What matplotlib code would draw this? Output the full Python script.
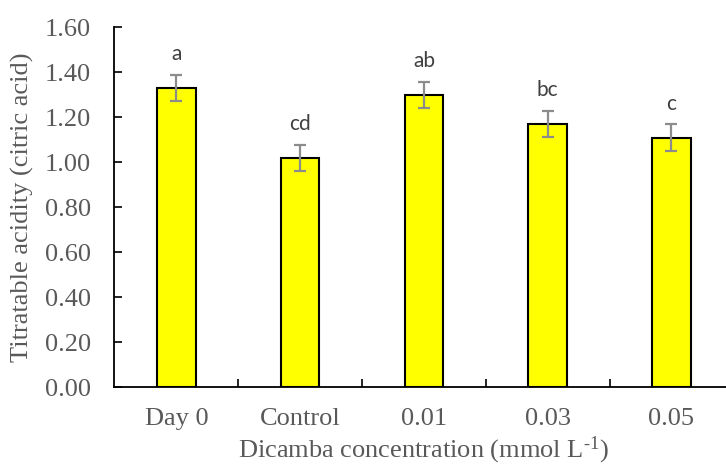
import numpy as np
import matplotlib
matplotlib.use("Agg")
import matplotlib.pyplot as plt

categories = ["Day 0", "Control", "0.01", "0.03", "0.05"]
acidity = [1.33, 1.02, 1.30, 1.17, 1.11]
sd = [0.058, 0.058, 0.058, 0.058, 0.058]
letters = ["a", "cd", "ab", "bc", "c"]
y_ticks = [0.0, 0.2, 0.4, 0.6, 0.8, 1.0, 1.2, 1.4, 1.6]

plt.rcParams["font.family"] = ["Liberation Serif", "DejaVu Serif"]
plt.rcParams["mathtext.fontset"] = "custom"
plt.rcParams["mathtext.rm"] = "Liberation Serif"
plt.rcParams["mathtext.it"] = "Liberation Serif:italic"

grey = "#595959"

fig = plt.figure(figsize=(7.26, 4.68), dpi=100)
ax = fig.add_axes([0.1577, 0.1724, 0.8523, 0.7693])

x = np.arange(len(categories))
ax.bar(x, acidity, width=0.31, color="#ffff00", edgecolor="black", linewidth=1.5, zorder=2)
ax.errorbar(x, acidity, yerr=sd, fmt="none", ecolor="#8c8c8c", elinewidth=1.6,
            capsize=4.2, capthick=1.6, zorder=3)

for xi, m, s, lab in zip(x, acidity, sd, letters):
    ax.text(xi, m + s + 0.066, lab, ha="center", va="baseline", fontsize=15,
            family=["Lato", "DejaVu Sans"], color="#404040")

ax.set_xlim(-0.5, 4.5)
ax.set_ylim(0, 1.6)
ax.set_yticks(y_ticks)
ax.set_yticklabels([f"{v:.2f}" for v in y_ticks])
ax.set_xticks(x)
ax.set_xticklabels(categories)
ax.set_xticks(x[:-1] + 0.5, minor=True)

ax.tick_params(axis="y", direction="in", length=5.5, width=1.2, pad=17,
               labelsize=19, labelcolor=grey)
ax.tick_params(axis="x", which="major", length=0, pad=15, labelsize=19, labelcolor=grey)
ax.tick_params(axis="x", which="minor", direction="in", length=5.5, width=1.2)

for side in ["top", "right"]:
    ax.spines[side].set_visible(False)
for side in ["left", "bottom"]:
    ax.spines[side].set_linewidth(1.3)

ax.set_ylabel("Titratable acidity (citric acid)", fontsize=19, color=grey, labelpad=8)
ax.set_xlabel("Dicamba concentration (mmol L$^{\\mathrm{\u2010}1}$)", fontsize=19,
              color=grey, labelpad=3)

fig.savefig("out.png", dpi=100)
